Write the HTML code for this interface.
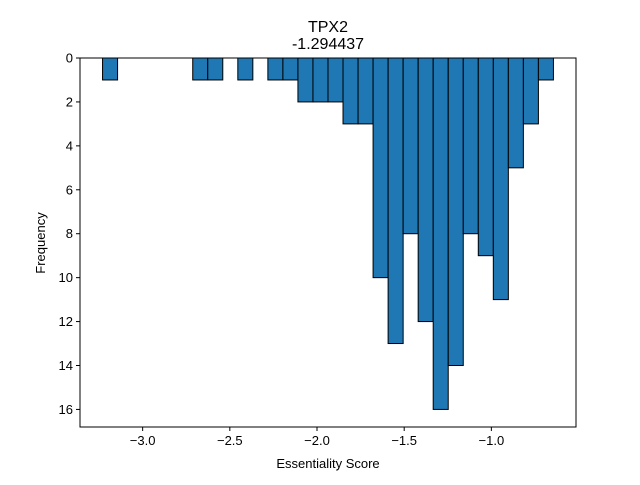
<!DOCTYPE html>
<html><head><meta charset="utf-8"><style>body{margin:0;background:#fff}svg text{font-family:"Liberation Sans","DejaVu Sans",sans-serif;fill:#000}</style></head>
<body>
<svg id="c" width="640" height="480" xmlns="http://www.w3.org/2000/svg">
<rect width="640" height="480" fill="#fff"/>
<text x="328" y="32" font-size="16" text-anchor="middle">TPX2</text>
<text x="328" y="49" font-size="16" text-anchor="middle">-1.294437</text>
<g id="bars"></g>
<g id="axes"></g>
<text x="328" y="468" font-size="13" text-anchor="middle">Essentiality Score</text>
<text x="45" y="243" font-size="13" text-anchor="middle" transform="rotate(-90 45 243)">Frequency</text>
</svg>
<script>
const binStart = -3.230;
const binWidth = 0.0862;
const counts = [1,0,0,0,0,0,1,1,0,1,0,1,1,2,2,2,3,3,10,13,8,12,16,14,8,9,11,5,3,1];
const xTicks = [-3.0,-2.5,-2.0,-1.5,-1.0];
const xTickLabels = ["\u22123.0","\u22122.5","\u22122.0","\u22121.5","\u22121.0"];
const yTicks = [0,2,4,6,8,10,12,14,16];
const L=80,R=576,T=58,B=427;
const xmin=-3.3593,xmax=-0.5146,ymax=16.8;
const sx=v=>L+(v-xmin)/(xmax-xmin)*(R-L);
const sy=v=>T+v/ymax*(B-T);
const NS="http://www.w3.org/2000/svg";
const bars=document.getElementById('bars'),axes=document.getElementById('axes');
function mk(t,a,p){const e=document.createElementNS(NS,t);for(const k in a)e.setAttribute(k,a[k]);p.appendChild(e);return e;}
counts.forEach((c,i)=>{if(!c)return;
 const x0=sx(binStart+i*binWidth),x1=sx(binStart+(i+1)*binWidth);
 const r=mk('rect',{x:x0,y:sy(0),width:x1-x0,height:sy(c)-sy(0),fill:'#1f77b4',stroke:'#000','stroke-width':1},bars);
 
 
});
const f=mk('rect',{x:L,y:T,width:R-L,height:B-T,fill:'none',stroke:'#000','stroke-width':1},axes);


xTicks.forEach((v,i)=>{const x=sx(v);
 mk('line',{x1:x,x2:x,y1:B,y2:B+4,stroke:'#000'},axes);
 const t=mk('text',{x:x,y:B+18,'font-size':13,'text-anchor':'middle'},axes);t.textContent=xTickLabels[i];
 
 
});
yTicks.forEach(v=>{const y=sy(v);
 mk('line',{x1:L-4,x2:L,y1:y,y2:y,stroke:'#000'},axes);
 const t=mk('text',{x:L-7,y:y+4.5,'font-size':13,'text-anchor':'end'},axes);t.textContent=v;
 
 
});
</script>
</body></html>
